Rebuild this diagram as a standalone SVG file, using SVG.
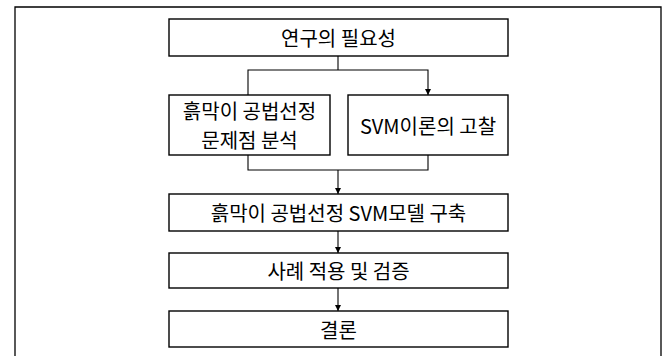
<svg xmlns="http://www.w3.org/2000/svg" width="669" height="356" viewBox="0 0 669 356">
<style>
.box{fill:#fff;stroke:#000;stroke-width:1.4}
.ln{fill:none;stroke:#000;stroke-width:1.1}
.t{font-family:"Noto Sans CJK KR","Liberation Sans",sans-serif;font-size:20px;fill:#000;text-anchor:middle;dominant-baseline:central}
</style>
<defs>
<marker id="ah" viewBox="0 0 6 10" refX="6" refY="5" markerWidth="6" markerHeight="10" markerUnits="userSpaceOnUse" orient="auto">
<path d="M0,2 L6,5 L0,8 Z" fill="#000"/>
</marker>
</defs>
<rect width="669" height="356" fill="#fff"/>
<path id="frame" d="M15,356 V7 H661 V356" fill="none" stroke="#000" stroke-width="1.3"/>
<g id="connectors">
<path class="ln" d="M338,56 V70"/>
<path class="ln" d="M248,95 V70 H428 V95" marker-start="url(#ah)" marker-end="url(#ah)"/>
<path class="ln" d="M248,155 V170 H428 V155"/>
<path class="ln" d="M338,170 V194" marker-end="url(#ah)"/>
<path class="ln" d="M338,231 V253" marker-end="url(#ah)"/>
<path class="ln" d="M338,288 V311" marker-end="url(#ah)"/>
</g>
<g id="n1"><rect class="box" x="169" y="19" width="339" height="37"/><text class="t" x="338.5" y="37.5">연구의 필요성</text></g>
<g id="n2"><rect class="box" x="169" y="95" width="161" height="60"/><text class="t" x="249.5" y="110.5">흙막이 공법선정</text><text class="t" x="249.5" y="139.5">문제점 분석</text></g>
<g id="n3"><rect class="box" x="348" y="95" width="160" height="60"/><text class="t" x="428" y="125">SVM이론의 고찰</text></g>
<g id="n4"><rect class="box" x="169" y="194" width="339" height="37"/><text class="t" x="338.5" y="212.5">흙막이 공법선정 SVM모델 구축</text></g>
<g id="n5"><rect class="box" x="169" y="253" width="339" height="35"/><text class="t" x="338.5" y="270.5">사례 적용 및 검증</text></g>
<g id="n6"><rect class="box" x="169" y="311" width="339" height="36"/><text class="t" x="338.5" y="329">결론</text></g>
</svg>
